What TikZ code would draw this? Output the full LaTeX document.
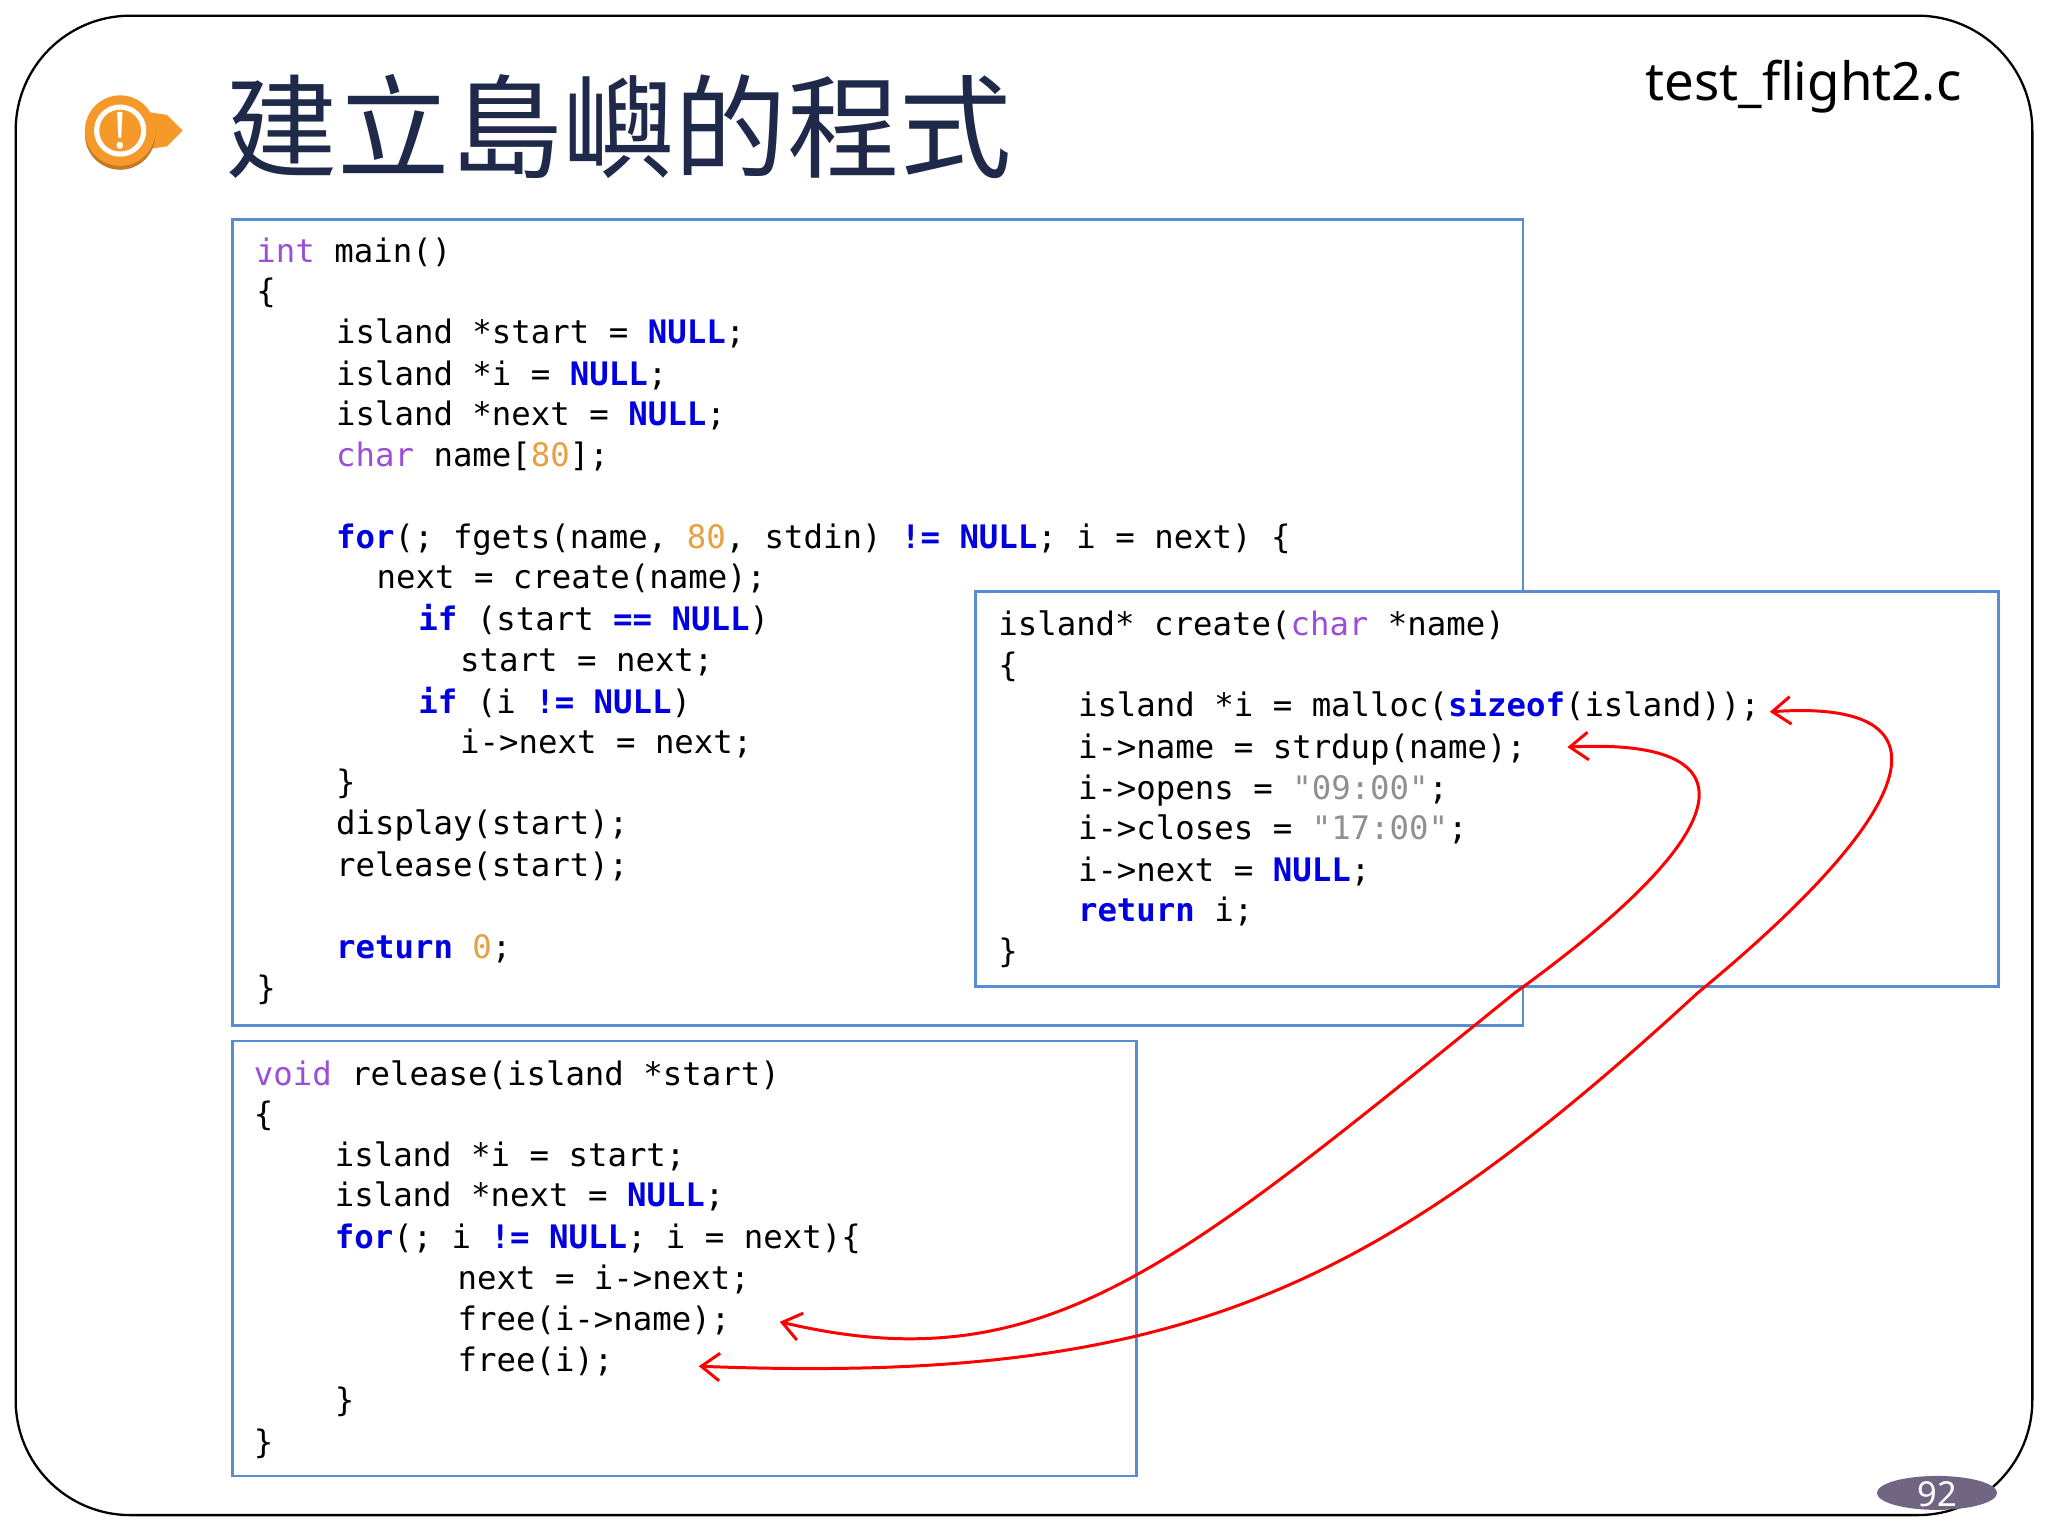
\documentclass[tikz,border=0pt]{standalone}
\usepackage{fontspec}
\setmainfont{Noto Sans}
\setmonofont{DejaVu Sans Mono}
\newfontfamily\cjk{Noto Sans CJK TC}
\usetikzlibrary{arrows.meta}
\definecolor{kwc}{HTML}{0000E0}
\definecolor{tyc}{HTML}{9A4FD8}
\definecolor{numc}{HTML}{E8A040}
\definecolor{strc}{HTML}{909090}
\definecolor{boxc}{HTML}{5B8BD0}
\definecolor{navy}{HTML}{1F2A4A}
\definecolor{pgc}{HTML}{716682}
\definecolor{icc}{HTML}{F59A2A}
\newcommand{\kw}[1]{\textcolor{kwc}{\bfseries #1}}
\newcommand{\ty}[1]{\textcolor{tyc}{#1}}
\newcommand{\nm}[1]{\textcolor{numc}{#1}}
\newcommand{\sq}[1]{\textcolor{strc}{#1}}
\begin{document}
\begin{tikzpicture}[x=0.02cm,y=-0.02cm,
  code/.style={anchor=west,inner sep=0pt,yshift=-0.09cm,font=\ttfamily\fontsize{14.1pt}{16pt}\selectfont,text height=0.75em,text depth=0.25em},
  codebox/.style={draw=boxc,line width=1.2pt,fill=white},
  link/.style={red,line width=1.3pt,{Straight Barb[length=8pt,width=12pt]}-{Straight Barb[length=8pt,width=12pt]}}]
\useasboundingbox (0,0) rectangle (1568,1176);
\draw[line width=1pt,rounded corners=50] (12,12) rectangle (1556,1160);
% icon
\fill[icc] (95,83) -- (128,88) -- (140,100) -- (128,112) -- (95,117) -- cycle;
\fill[icc!80!black] (92,103) circle (27);
\fill[icc] (92,100) circle (27);
\fill[white] (92,100) circle (20);
\fill[icc] (92,100) circle (16);
\node[text=white,font=\bfseries\fontsize{22pt}{22pt}\selectfont] (ic) at (92,100) {!};
\node[anchor=west,inner sep=0pt,text=navy,font=\cjk\fontsize{49pt}{50pt}\selectfont] (title) at (172,97) {建立島嶼的程式};
\node[anchor=east,inner sep=0pt,font=\fontsize{23pt}{24pt}\selectfont] (fn) at (1502,66) {test\_flight2.c};
\fill[pgc] (1483,1143) ellipse (46 and 13);
\node[text=white,font=\bfseries\fontsize{15pt}{15pt}\selectfont] (pg) at (1483,1144) {92};
% main box
\draw[codebox] (178,168) rectangle (1166,785);
\node[code] (m1) at (196,192) {\ty{int} main()};
\node[code] (m2) at (196,223) {\{};
\node[code] (m3) at (257,254) {island *start = \kw{NULL};};
\node[code] (m4) at (257,286) {island *i = \kw{NULL};};
\node[code] (m5) at (257,317) {island *next = \kw{NULL};};
\node[code] (m6) at (257,348) {\ty{char} name[\nm{80}];};
\node[code] (m7) at (257,411) {\kw{for}(; fgets(name, \nm{80}, stdin) \kw{!=} \kw{NULL}; i = next) \{};
\node[code] (m8) at (288,442) {next = create(name);};
\node[code] (m9) at (320,474) {\kw{if} (start \kw{==} \kw{NULL})};
\node[code] (m10) at (352,505) {start = next;};
\node[code] (m11) at (320,537) {\kw{if} (i \kw{!=} \kw{NULL})};
\node[code] (m12) at (352,568) {i->next = next;};
\node[code] (m13) at (257,599) {\}};
\node[code] (m14) at (257,630) {display(start);};
\node[code] (m15) at (257,662) {release(start);};
\node[code] (m16) at (257,725) {\kw{return} \nm{0};};
\node[code] (m17) at (196,756) {\}};
% create box
\draw[codebox] (747,453) rectangle (1530,755);
\node[code] (c1) at (764,478) {island* create(\ty{char} *name)};
\node[code] (c2) at (764,509) {\{};
\node[code] (c3) at (825,540) {island *i = malloc(\kw{sizeof}(island));};
\node[code] (c4) at (825,572) {i->name = strdup(name);};
\node[code] (c5) at (825,603) {i->opens = \sq{"09:00"};};
\node[code] (c6) at (825,634) {i->closes = \sq{"17:00"};};
\node[code] (c7) at (825,666) {i->next = \kw{NULL};};
\node[code] (c8) at (825,697) {\kw{return} i;};
\node[code] (c9) at (764,728) {\}};
% release box
\draw[codebox] (178,797) rectangle (870,1130);
\node[code] (r1) at (194,822) {\ty{void} release(island *start)};
\node[code] (r2) at (194,853) {\{};
\node[code] (r3) at (256,884) {island *i = start;};
\node[code] (r4) at (256,915) {island *next = \kw{NULL};};
\node[code] (r5) at (256,947) {\kw{for}(; i \kw{!=} \kw{NULL}; i = next)\{};
\node[code] (r6) at (350,978) {next = i->next;};
\node[code] (r7) at (350,1010) {free(i->name);};
\node[code] (r8) at (350,1041) {free(i);};
\node[code] (r9) at (256,1072) {\}};
\node[code] (r10) at (194,1104) {\}};
% arrows
\coordinate (a1) at (1355,545);
\coordinate (b1) at (535,1046);
\coordinate (a2) at (1200,572);
\coordinate (b2) at (597,1012);
\draw[link] (a1) .. controls (1500,535) and (1470,620) .. (1300,760) .. controls (1050,990) and (900,1060) .. (b1);
\draw[link] (a2) .. controls (1340,565) and (1340,630) .. (1160,760) .. controls (900,970) and (800,1060) .. (b2);
\end{tikzpicture}
\end{document}
